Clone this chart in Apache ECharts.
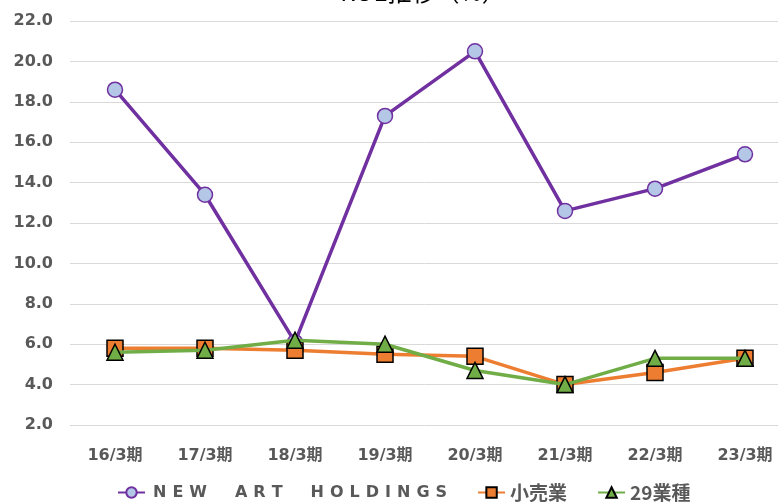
<!DOCTYPE html>
<html>
<head>
<meta charset="utf-8">
<script src="https://cdn.jsdelivr.net/npm/echarts@6/dist/echarts.min.js"></script>
<style>
  html, body { margin: 0; padding: 0; background: #fff; }
  #roeChart { width: 778px; height: 502px; }
</style>
</head>
<body>
<div id="roeChart"></div>
<script>
// カテゴリ・系列データ
var periods = ['16/3期', '17/3期', '18/3期', '19/3期', '20/3期', '21/3期', '22/3期', '23/3期']
var newArt = [18.6, 13.4, 6.1, 17.3, 20.5, 12.6, 13.7, 15.4]
var retail = [5.8, 5.8, 5.7, 5.5, 5.4, 4.0, 4.6, 5.3]
var allIndustry = [5.6, 5.7, 6.2, 6.0, 4.7, 4.0, 5.3, 5.3]
var seriesNames = ['NEW ART HOLDINGS', '小売業', '29業種']

var labelFont = '"DejaVu Sans", "Noto Sans CJK JP", sans-serif'
var gray = '#595959'

var chart = echarts.init(document.getElementById('roeChart'))
var option = {
  animation: false,
  title: {
    text: 'ROE推移（%）',
    left: 418,
    top: -25,
    textAlign: 'center',
    textStyle: { fontFamily: '"Noto Sans CJK JP", sans-serif', fontSize: 24, fontWeight: 'normal', color: '#000' }
  },
  grid: { left: 70, right: -12, top: 21, bottom: 77, outerBoundsMode: 'none' },
  legend: {
    left: 117,
    top: 483,
    padding: 0,
    itemWidth: 27,
    itemHeight: 13,
    itemGap: 30,
    textStyle: {
      fontFamily: '"Noto Sans CJK JP", sans-serif', fontSize: 19, fontWeight: 'bold', color: gray,
      rich: {
        c: { fontFamily: labelFont, fontSize: 16, fontWeight: 'bold', color: gray, padding: [0, 3] },
        w: { width: 22 }
      }
    },
    formatter: function(name) {
      // 社名は字間を広げる
      if (name !== seriesNames[0]) return name
      return name.split(' ').map(function(word) {
        return word.split('').map(function(ch) { return '{c|' + ch + '}' }).join('')
      }).join('{w| }')
    },
    data: seriesNames
  },
  xAxis: {
    type: 'category',
    data: periods,
    axisLine: { show: false },
    axisTick: { show: false },
    axisLabel: { margin: 23, fontFamily: labelFont, fontSize: 16, fontWeight: 'bold', color: gray }
  },
  yAxis: {
    type: 'value',
    min: 2,
    max: 22,
    interval: 2,
    axisLabel: {
      margin: 17,
      fontFamily: labelFont, fontSize: 16, fontWeight: 'bold', color: gray,
      formatter: function(v) { return v.toFixed(1) }
    },
    splitLine: { lineStyle: { color: '#d9d9d9', width: 1 } }
  },
  series: [
    {
      name: seriesNames[0],
      type: 'line',
      data: newArt,
      symbol: 'circle',
      symbolSize: 15,
      z: 3,
      lineStyle: { color: '#7030A0', width: 3.5 },
      itemStyle: { color: '#B4C7E7', borderColor: '#7030A0', borderWidth: 1.5 }
    },
    {
      name: seriesNames[1],
      type: 'line',
      data: retail,
      symbol: 'rect',
      symbolSize: 16,
      z: 4,
      lineStyle: { color: '#ED7D31', width: 3.5 },
      itemStyle: { color: '#ED7D31', borderColor: '#000', borderWidth: 1.5 }
    },
    {
      name: seriesNames[2],
      type: 'line',
      data: allIndustry,
      symbol: 'triangle',
      symbolSize: 16,
      z: 5,
      lineStyle: { color: '#70AD47', width: 3.5 },
      itemStyle: { color: '#70AD47', borderColor: '#000', borderWidth: 1.5 }
    }
  ]
}
chart.setOption(option)
</script>
</body>
</html>
